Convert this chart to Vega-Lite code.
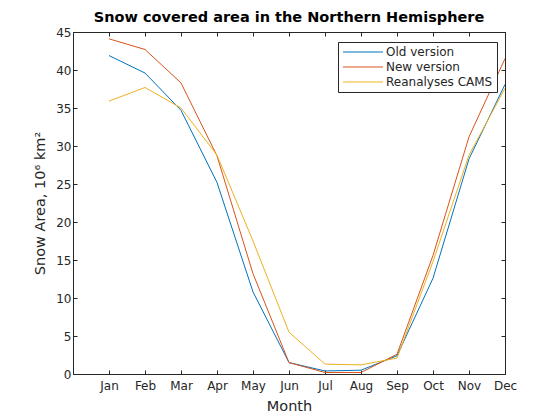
{
  "$schema": "https://vega.github.io/schema/vega-lite/v6.json",
  "width": 432,
  "height": 342,
  "autosize": {"type": "none"},
  "padding": {"left": 73, "top": 32, "right": 55, "bottom": 46},
  "background": "white",
  "config": {
    "font": "DejaVu Sans",
    "view": {"stroke": "#262626", "strokeWidth": 1},
    "axis": {"grid": false, "domainColor": "#262626", "tickColor": "#262626", "labelColor": "#262626", "titleColor": "#262626", "labelFontSize": 12, "titleFontSize": 14.5, "titleFontWeight": "normal", "tickWidth": 1, "labelFlush": false}
  },
  "title": {"text": "Snow covered area in the Northern Hemisphere", "fontSize": 14.5, "fontWeight": "bold", "color": "black", "offset": 1, "anchor": "middle"},
  "data": {"values": [
    {"month": 1, "series": "Old version", "value": 41.9},
    {"month": 2, "series": "Old version", "value": 39.6},
    {"month": 3, "series": "Old version", "value": 34.7},
    {"month": 4, "series": "Old version", "value": 25.2},
    {"month": 5, "series": "Old version", "value": 10.8},
    {"month": 6, "series": "Old version", "value": 1.5},
    {"month": 7, "series": "Old version", "value": 0.4},
    {"month": 8, "series": "Old version", "value": 0.5},
    {"month": 9, "series": "Old version", "value": 2.4},
    {"month": 10, "series": "Old version", "value": 12.6},
    {"month": 11, "series": "Old version", "value": 28.3},
    {"month": 12, "series": "Old version", "value": 38.1},
    {"month": 1, "series": "New version", "value": 44.1},
    {"month": 2, "series": "New version", "value": 42.7},
    {"month": 3, "series": "New version", "value": 38.3},
    {"month": 4, "series": "New version", "value": 28.7},
    {"month": 5, "series": "New version", "value": 13.2},
    {"month": 6, "series": "New version", "value": 1.5},
    {"month": 7, "series": "New version", "value": 0.2},
    {"month": 8, "series": "New version", "value": 0.2},
    {"month": 9, "series": "New version", "value": 2.6},
    {"month": 10, "series": "New version", "value": 15.6},
    {"month": 11, "series": "New version", "value": 31.2},
    {"month": 12, "series": "New version", "value": 41.5},
    {"month": 1, "series": "Reanalyses CAMS", "value": 35.9},
    {"month": 2, "series": "Reanalyses CAMS", "value": 37.7},
    {"month": 3, "series": "Reanalyses CAMS", "value": 35.0},
    {"month": 4, "series": "Reanalyses CAMS", "value": 28.8},
    {"month": 5, "series": "Reanalyses CAMS", "value": 17.5},
    {"month": 6, "series": "Reanalyses CAMS", "value": 5.5},
    {"month": 7, "series": "Reanalyses CAMS", "value": 1.3},
    {"month": 8, "series": "Reanalyses CAMS", "value": 1.2},
    {"month": 9, "series": "Reanalyses CAMS", "value": 2.1},
    {"month": 10, "series": "Reanalyses CAMS", "value": 14.8},
    {"month": 11, "series": "Reanalyses CAMS", "value": 28.8},
    {"month": 12, "series": "Reanalyses CAMS", "value": 37.6}
  ]},
  "layer": [
    {
      "mark": {"type": "line", "strokeWidth": 1, "clip": true},
      "encoding": {
        "x": {"field": "month", "type": "quantitative", "scale": {"domain": [0, 12], "nice": false, "zero": false},
          "axis": {"values": [1,2,3,4,5,6,7,8,9,10,11,12], "labelExpr": "['Jan','Feb','Mar','Apr','May','Jun','Jul','Aug','Sep','Oct','Nov','Dec'][datum.value-1]", "title": "Month", "tickSize": -4, "labelPadding": 10, "titlePadding": 8}},
        "y": {"field": "value", "type": "quantitative", "scale": {"domain": [0, 45], "nice": false},
          "axis": {"values": [0,5,10,15,20,25,30,35,40,45], "title": "Snow Area, 10⁶ km²", "tickSize": -4, "labelPadding": 6, "titlePadding": 8}},
        "color": {"field": "series", "type": "nominal",
          "scale": {"domain": ["Old version", "New version", "Reanalyses CAMS"], "range": ["#0072BD", "#D95319", "#EDB120"]},
          "legend": {"title": null, "orient": "none", "legendX": 265, "legendY": 10, "symbolType": "M-4,0H4", "symbolSize": 100, "symbolStrokeWidth": 1, "labelFontSize": 12, "labelColor": "#262626", "strokeColor": "#262626", "padding": 4, "rowPadding": 3, "fillColor": "white", "symbolOffset": 15, "labelOffset": 17}}
      }
    },
    {
      "mark": {"type": "line", "opacity": 0},
      "encoding": {
        "x": {"field": "month", "type": "quantitative", "axis": {"values": [1,2,3,4,5,6,7,8,9,10,11,12], "labels": false, "title": null, "tickSize": -4, "orient": "top"}},
        "y": {"field": "value", "type": "quantitative", "axis": {"values": [0,5,10,15,20,25,30,35,40,45], "labels": false, "title": null, "tickSize": -4, "orient": "right"}},
        "detail": {"field": "series"}
      }
    }
  ],
  "resolve": {"axis": {"x": "independent", "y": "independent"}}
}
